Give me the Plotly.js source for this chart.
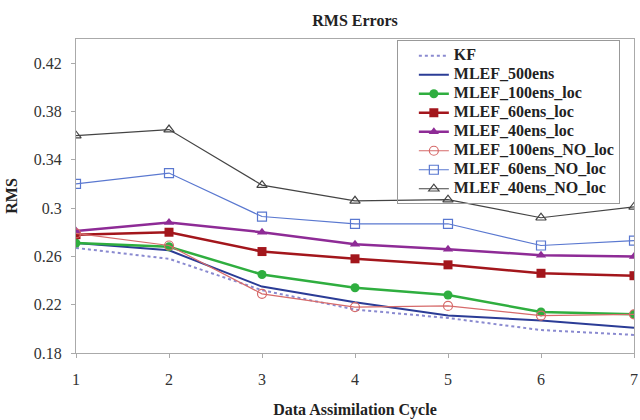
<!DOCTYPE html>
<html>
<head>
<meta charset="utf-8">
<script src="https://cdn.plot.ly/plotly-3.0.1.min.js"></script>
<style>html,body{margin:0;padding:0;background:#fff;}#chart{width:640px;height:420px;}</style>
</head>
<body>
<div id="chart"></div>
<script>
const cycles = [1, 2, 3, 4, 5, 6, 7];
const seriesNames = ["KF", "MLEF_500ens", "MLEF_100ens_loc", "MLEF_60ens_loc", "MLEF_40ens_loc", "MLEF_100ens_NO_loc", "MLEF_60ens_NO_loc", "MLEF_40ens_NO_loc"];
const kf            = [0.267, 0.258, 0.232, 0.216, 0.209, 0.199, 0.195];
const mlef500       = [0.271, 0.265, 0.235, 0.222, 0.211, 0.207, 0.201];
const mlef100loc    = [0.271, 0.268, 0.245, 0.234, 0.228, 0.214, 0.212];
const mlef60loc     = [0.278, 0.280, 0.264, 0.258, 0.253, 0.246, 0.244];
const mlef40loc     = [0.281, 0.288, 0.280, 0.270, 0.266, 0.261, 0.260];
const mlef100noloc  = [0.279, 0.269, 0.229, 0.218, 0.219, 0.211, 0.212];
const mlef60noloc   = [0.320, 0.329, 0.293, 0.287, 0.287, 0.269, 0.273];
const mlef40noloc   = [0.360, 0.365, 0.319, 0.306, 0.307, 0.292, 0.301];
const yTicks = [0.18, 0.22, 0.26, 0.3, 0.34, 0.38, 0.42];
const yTickText = ["0.18", "0.22", "0.26", "0.3", "0.34", "0.38", "0.42"];

const values = [kf, mlef500, mlef100loc, mlef60loc, mlef40loc, mlef100noloc, mlef60noloc, mlef40noloc];
const styles = [
  {line:{color:'#8a8ad0', width:2, dash:'dot'}, mode:'lines'},
  {line:{color:'#2b3c96', width:2}, mode:'lines'},
  {line:{color:'#2fae3f', width:2.5}, marker:{symbol:'circle', size:9, color:'#2fae3f'}, mode:'lines+markers'},
  {line:{color:'#a3161c', width:2.5}, marker:{symbol:'square', size:9, color:'#a3161c'}, mode:'lines+markers'},
  {line:{color:'#8e2b96', width:2.5}, marker:{symbol:'triangle-up', size:9, color:'#8e2b96'}, mode:'lines+markers'},
  {line:{color:'#d66a6a', width:1.2}, marker:{symbol:'circle-open', size:9, color:'#d66a6a', line:{width:1.2}}, mode:'lines+markers'},
  {line:{color:'#5a78d0', width:1.2}, marker:{symbol:'square-open', size:9, color:'#5a78d0', line:{width:1.2}}, mode:'lines+markers'},
  {line:{color:'#444444', width:1.2}, marker:{symbol:'triangle-up-open', size:9, color:'#444444', line:{width:1.2}}, mode:'lines+markers'}
];
const traces = seriesNames.map((n, i) => Object.assign({
  type:'scatter', x:cycles, y:values[i],
  name:'<span style="font-size:16px">' + n + '</span>'
}, styles[i]));

const serif = "'Liberation Serif', 'Times New Roman', serif";
const layout = {
  width: 640, height: 420,
  margin: {l:76, r:6, t:39, b:67},
  paper_bgcolor:'#fff', plot_bgcolor:'#fff',
  title: {text:'<b>RMS Errors</b>', x:0.5, xref:'paper', xanchor:'center', y:0.965, yref:'container', font:{family:serif, size:16, color:'#222'}},
  xaxis: {range:[1,7], tickvals:cycles, showgrid:false, zeroline:false, showline:true, linecolor:'#aaa', mirror:true,
          ticks:'outside', ticklen:4, tickcolor:'#aaa', ticklabeloverflow:'allow', ticklabelstandoff:8,
          tickfont:{family:serif, size:16, color:'#333'},
          title:{text:'<b>Data Assimilation Cycle</b>', font:{family:serif, size:16, color:'#222'}, standoff:16}},
  yaxis: {range:[0.18,0.44], tickvals:yTicks, ticktext:yTickText, showgrid:false, zeroline:false, showline:true, linecolor:'#aaa', mirror:true,
          ticks:'outside', ticklen:4, tickcolor:'#aaa', ticklabelstandoff:6, ticklabeloverflow:'allow',
          tickfont:{family:serif, size:16, color:'#333'},
          title:{text:'<b>RMS</b>', font:{family:serif, size:16, color:'#222'}, standoff:12}},
  legend: {x:0.575, y:0.996, xanchor:'left', yanchor:'top', bgcolor:'rgba(255,255,255,0)', bordercolor:'#999', borderwidth:1,
           font:{family:serif, size:11, color:'#222', weight:'bold'}, tracegroupgap:0, itemwidth:30, indentation:16},
  showlegend: true
};
Plotly.newPlot('chart', traces, layout, {displayModeBar:false, staticPlot:true});
</script>
</body>
</html>
